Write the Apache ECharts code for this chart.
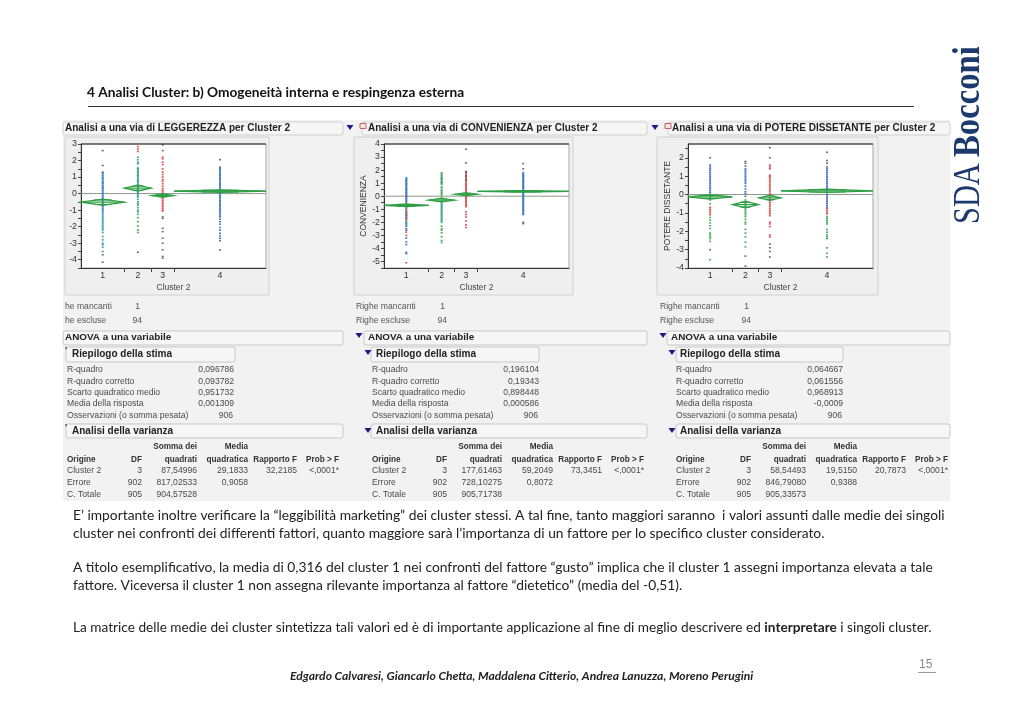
<!DOCTYPE html>
<html><head><meta charset="utf-8">
<style>html,body{margin:0;padding:0;background:#fff}#c{width:1030px;height:728px;filter:blur(0.35px)}</style>
<script src="https://cdn.jsdelivr.net/npm/echarts@6/dist/echarts.min.js"></script>
</head><body><div id="c"></div>
<script>
// ---------- DATA ----------
const clusterNames = ['1','2','3','4'];
const legBounds = [0,0.235,0.38,0.503,1];
const conBounds = [0,0.241,0.382,0.505,1];
const potBounds = [0,0.239,0.382,0.503,1];

const legMeans = [-0.52,0.33,-0.12,0.15];
const legCI = [0.19,0.18,0.1,0.07];
const conMeans = [-0.7,-0.3,0.15,0.37];
const conCI = [0.1,0.14,0.1,0.06];
const potMeans = [-0.13,-0.55,-0.18,0.2];
const potCI = [0.12,0.18,0.14,0.09];
const grandMeans = [0.0013,0.0006,-0.0009];

const legC1Blue = [1.3,1.2,1.1,1.0,0.9,0.8,0.7,0.6,0.5,0.4,0.3,0.2,0.1,0,-0.1,-0.2,-0.3,-0.4,-0.5,-0.6,-0.7,-0.8,-0.9,-1.0];
const legC1Teal = [1.25,0.95,0.65,0.35,-1.1,-1.2,-1.3,-1.4,-1.5,-1.6,-1.7,-1.8,-1.9,-2.0,-2.1,-2.2,-2.35,-2.6,-2.8,-3.0,-3.1,-3.25,-3.5];
const legC1Dark = [2.6,1.7,-3.7,-4.15];
const legC2Teal = [2.2,2.05,1.9,1.8,1.55,1.45,1.35,1.25,1.15,1.05,0.95,0.85,0.75,0.65,0.55,0.45,0.35,0.25,0.15,0.05,-0.05,-0.2,-0.35,-0.5,-0.7,-0.85,-1.0];
const legC2Green = [1.5,1.3,1.1,0.8,0.5,0.2,-0.15,-0.6,-1.1,-1.25,-1.45,-1.7,-1.95,-2.2,-2.35];
const legC2Red = [2.85,2.7,2.55];
const legC2Dark = [-3.55];
const legC3Red = [2.2,2.1,1.9,1.75,1.5,1.3,1.15,1.0,0.85,0.75,0.6,0.45,0.3,0.2,0.1,0,-0.1,-0.2,-0.3,-0.4,-0.5,-0.6,-0.7,-0.8,-0.9,-1.0,-1.05];
const legC3Dark = [2.95,2.6,-1.4,-1.5,-2.1,-2.3,-2.7,-3.0,-3.4,-3.8,-3.9];
const legC4Blue = [1.6,1.5,1.4,1.3,1.2,1.1,1.0,0.9,0.8,0.7,0.6,0.5,0.4,0.3,0.2,0.1,0,-0.1,-0.2,-0.3,-0.4,-0.5,-0.6,-0.7,-0.8,-0.9,-1.0,-1.1,-1.3,-1.4,-1.55,-1.7,-2.2,-2.4,-2.55,-2.7,-2.85];
const legC4Teal = [1.45,1.15,0.85,0.55,-0.15,-0.45,-0.75,-1.2,-1.85,-2.05];
const legC4Dark = [2.05,-3.4];

const conC1Blue = [1.4,1.3,1.2,1.1,1.0,0.9,0.8,0.7,0.6,0.5,0.4,0.3,0.2,0.1,0,-0.1,-0.2,-0.3,-0.4,-1.2,-1.4,-1.6,-2.1,-2.3,-2.5,-2.6,-3.2,-3.5,-3.7,-4.3,-4.4];
const conC1Teal = [1.25,0.95,0.55,0.25,-0.5,-0.7,-0.8,-0.9,-1.1,-1.3,-1.5,-1.7,-1.9,-2.0,-2.2];
const conC1Red = [0.0,-0.6,-1.0,-1.25,-1.45,-1.65,-1.8,-2.75,-3.0,-5.1];
const conC2Green = [1.8,1.7,1.6,1.5,1.4,1.3,1.2,1.1,1.0,0.9,0.7,0.5,0.4,0.3,0.2,0.1,-0.1,-0.4,-0.5,-0.7,-0.9,-1.1,-1.3,-1.5,-1.7,-1.9,-2.0,-2.3,-2.5,-2.6,-2.8,-3.1,-3.4,-3.55];
const conC2Teal = [1.35,1.05,0.65,-0.6,-0.8,-1.0,-1.2,-1.4,-1.6,-1.8];
const conC3Red = [1.9,1.8,1.7,1.6,1.5,1.4,1.3,1.2,1.1,1.0,0.9,0.8,0.7,0.6,0.5,0.4,0.3,0.2,0.1,0,-0.1,-0.2,-0.3,-0.4,-0.5,-0.6,-0.7,-0.8,-1.2,-1.4,-1.6,-1.9,-2.2,-2.4];
const conC3Dark = [3.6,2.55,1.85,1.55,1.25];
const conC4Blue = [1.8,1.7,1.6,1.5,1.4,1.3,1.2,1.1,1.0,0.9,0.8,0.7,0.6,0.5,0.4,0.3,0.2,0.1,0,-0.1,-0.2,-0.3,-0.4,-0.5,-0.6,-0.7,-0.8,-0.9,-1.0,-1.1,-1.2,-1.3,-1.4];
const conC4Teal = [1.55,1.15,0.75,0.25,-0.25,-0.65,-1.05];
const conC4Dark = [2.5,2.1,-2.0,-2.1];

const potC1Blue = [1.6,1.5,1.4,1.3,1.2,1.1,1.0,0.9,0.8,0.7,0.6,0.5,0.4,0.3,0.2,0.1,0,-0.1,-0.2];
const potC1Red = [-0.7,-0.8,-0.9,-1.0,-1.1];
const potC1Green = [-0.3,-0.5,-1.25,-1.4,-1.55,-1.7,-1.85,-2.1,-2.2,-2.3,-2.4,-2.55,-3.55];
const potC1Dark = [2.0,-3.0];
const potC2Blue = [1.4,1.3,1.2,1.1,1.0,0.9,0.8,0.7,0.6,0.45,0.3,0.15,0.05,-0.1];
const potC2Green = [-0.3,-0.4,-0.5,-0.6,-0.7,-0.8,-0.9,-1.0,-1.1,-1.2,-1.35,-1.5,-1.6,-1.9,-2.1,-2.3,-2.6,-2.85];
const potC2Dark = [1.8,1.7,1.55,-3.35,-3.9];
const potC3Red = [1.05,1.0,0.95,0.85,0.75,0.65,0.55,0.45,0.35,0.25,0.15,0.05,-0.05,-0.15,-0.25,-0.35,-0.45,-0.55,-0.65,-0.75,-0.85,-0.95,-1.05,-1.15,1.6,1.5,1.4,-1.5,-1.6,-1.75,-2.2,-2.3];
const potC3Dark = [2.55,2.0,-2.7,-2.9,-3.1,-3.4];
const potC4Blue = [1.5,1.4,1.3,1.2,1.1,1.0,0.9,0.8,0.7,0.6,0.5,0.4,0.3,0.2,0.1,0,-0.1,-0.2,-0.3,-0.4,-0.5,-0.6,-0.7];
const potC4Red = [-0.75,-0.85,-0.95,-1.05];
const potC4Green = [-1.2,-1.3,-1.4,-1.5,-1.6,-1.9,-2.05,-2.2,-2.3,-2.4,-2.9,-3.2,-3.4];
const potC4Dark = [2.3,1.85,1.7];

const legTicks = [-4,-3,-2,-1,0,1,2,3];
const conTicks = [-5,-4,-3,-2,-1,0,1,2,3,4];
const potTicks = [-4,-3,-2,-1,0,1,2];
const legMinor = [-4.5,-4,-3.5,-3,-2.5,-2,-1.5,-1,-0.5,0,0.5,1,1.5,2,2.5,3];
const conMinor = [-5.5,-5,-4.5,-4,-3.5,-3,-2.5,-2,-1.5,-1,-0.5,0,0.5,1,1.5,2,2.5,3,3.5,4];
const potMinor = [-4,-3.5,-3,-2.5,-2,-1.5,-1,-0.5,0,0.5,1,1.5,2,2.5];

const panelTitles = ['Analisi a una via di LEGGEREZZA per Cluster 2','Analisi a una via di CONVENIENZA per Cluster 2','Analisi a una via di POTERE DISSETANTE per Cluster 2'];
const summaryLabels = ['R-quadro','R-quadro corretto','Scarto quadratico medio','Media della risposta','Osservazioni (o somma pesata)'];
const legSummary = ['0,096786','0,093782','0,951732','0,001309','906'];
const conSummary = ['0,196104','0,19343','0,898448','0,000586','906'];
const potSummary = ['0,064667','0,061556','0,968913','-0,0009','906'];
const anovaHead1 = ['','','Somma dei','Media','',''];
const anovaHead2 = ['Origine','DF','quadrati','quadratica','Rapporto F','Prob > F'];
const legAnova = [['Cluster 2','3','87,54996','29,1833','32,2185','<,0001*'],['Errore','902','817,02533','0,9058','',''],['C. Totale','905','904,57528','','','']];
const conAnova = [['Cluster 2','3','177,61463','59,2049','73,3451','<,0001*'],['Errore','902','728,10275','0,8072','',''],['C. Totale','905','905,71738','','','']];
const potAnova = [['Cluster 2','3','58,54493','19,5150','20,7873','<,0001*'],['Errore','902','846,79080','0,9388','',''],['C. Totale','905','905,33573','','','']];

const heading = '4 Analisi Cluster: b) Omogeneità interna e respingenza esterna';
const bodyLines = [
 'E’ importante inoltre verificare la “leggibilità marketing” dei cluster stessi. A tal fine, tanto maggiori saranno  i valori assunti dalle medie dei singoli',
 'cluster nei confronti dei differenti fattori, quanto maggiore sarà l’importanza di un fattore per lo specifico cluster considerato.',
 'A titolo esemplificativo, la media di 0,316 del cluster 1 nei confronti del fattore “gusto” implica che il cluster 1 assegni importanza elevata a tale',
 'fattore. Viceversa il cluster 1 non assegna rilevante importanza al fattore “dietetico” (media del -0,51).'
];
const lastLine = ['La matrice delle medie dei cluster sintetizza tali valori ed è di importante applicazione al fine di meglio descrivere ed ','interpretare',' i singoli cluster.'];
const footer = 'Edgardo Calvaresi, Giancarlo Chetta, Maddalena Citterio, Andrea Lanuzza, Moreno Perugini';

// ---------- STYLE ----------
const COL = {blue:'#3566c4',teal:'#2a98a4',green:'#35a84a',red:'#d84848',dark:'#5a6068'};
const SANS = '"Liberation Sans",Arial,sans-serif';
const DIA = '#2f9f45';

const panels = [
 {bounds:legBounds,means:legMeans,ci:legCI,min:-4.5,max:3,ticks:legTicks,minor:legMinor,name:'',left:81,dx:0,
  sets:[[0,'blue',legC1Blue],[0,'teal',legC1Teal],[0,'dark',legC1Dark],[1,'teal',legC2Teal],[1,'green',legC2Green],[1,'red',legC2Red],[1,'dark',legC2Dark],[2,'red',legC3Red],[2,'dark',legC3Dark],[3,'blue',legC4Blue],[3,'teal',legC4Teal],[3,'dark',legC4Dark]]},
 {bounds:conBounds,means:conMeans,ci:conCI,min:-5.5,max:4,ticks:conTicks,minor:conMinor,name:'CONVENIENZA',left:384,dx:305,
  sets:[[0,'blue',conC1Blue],[0,'teal',conC1Teal],[0,'red',conC1Red],[1,'green',conC2Green],[1,'teal',conC2Teal],[2,'red',conC3Red],[2,'dark',conC3Dark],[3,'blue',conC4Blue],[3,'teal',conC4Teal],[3,'dark',conC4Dark]]},
 {bounds:potBounds,means:potMeans,ci:potCI,min:-4,max:2.75,ticks:potTicks,minor:potMinor,name:'POTERE DISSETANTE',left:688,dx:609,
  sets:[[0,'blue',potC1Blue],[0,'red',potC1Red],[0,'green',potC1Green],[0,'dark',potC1Dark],[1,'blue',potC2Blue],[1,'green',potC2Green],[1,'dark',potC2Dark],[2,'red',potC3Red],[2,'dark',potC3Dark],[3,'blue',potC4Blue],[3,'red',potC4Red],[3,'green',potC4Green],[3,'dark',potC4Dark]]}
];

const chart = echarts.init(document.getElementById('c'),null,{renderer:'canvas'});
const mids = b => clusterNames.map((_,i)=>(b[i]+b[i+1])/2);

const grids=[],xAxes=[],yAxes=[],series=[];
panels.forEach((p,pi)=>{
  grids.push({left:p.left,top:144,width:185,height:124,show:true,backgroundColor:'#fff',borderColor:'#a8a8a8',borderWidth:1});
  xAxes.push({gridIndex:pi,type:'value',min:0,max:1,splitLine:{show:false},
    axisLine:{onZero:false,lineStyle:{color:'#333',width:1}},
    axisTick:{customValues:p.bounds.slice(1,4),length:4,inside:false,lineStyle:{color:'#444'}},
    axisLabel:{customValues:mids(p.bounds),margin:3,fontSize:8.8,fontFamily:SANS,color:'#333',
      formatter:v=>{const i=mids(p.bounds).findIndex(m=>Math.abs(m-v)<1e-6);return i<0?'':clusterNames[i];}},
    name:'Cluster 2',nameLocation:'middle',nameGap:15,nameTextStyle:{fontSize:8.5,fontFamily:SANS,color:'#444'}});
  yAxes.push({gridIndex:pi,type:'value',min:p.min,max:p.max,splitLine:{show:false},
    axisLine:{onZero:false,lineStyle:{color:'#333',width:1}},
    axisTick:{customValues:p.minor,length:3,lineStyle:{color:'#444'}},
    axisLabel:{customValues:p.ticks,margin:4,fontSize:8.8,fontFamily:SANS,color:'#333',formatter:v=>String(v)},
    name:p.name,nameLocation:'middle',nameGap:16,nameTextStyle:{fontSize:8.5,fontFamily:SANS,color:'#333'}});
  series.push({type:'line',xAxisIndex:pi,yAxisIndex:pi,data:[[0,grandMeans[pi]],[1,grandMeans[pi]]],showSymbol:false,silent:true,
    lineStyle:{color:'#8a9a8a',width:1},z:2});
  p.sets.forEach(([c,col,vals])=>{
    const x=mids(p.bounds)[c];
    series.push({type:'scatter',xAxisIndex:pi,yAxisIndex:pi,symbol:'rect',symbolSize:[2,1.6],silent:true,
      itemStyle:{color:COL[col],opacity:0.9},data:vals.map(v=>[x,v]),z:3});
  });
  series.push({type:'custom',xAxisIndex:pi,yAxisIndex:pi,silent:true,z:4,
    data:p.means.map((m,i)=>[p.bounds[i],p.bounds[i+1],m,p.ci[i]]),
    renderItem:(params,api)=>{
      const x0=api.value(0),x1=api.value(1),m=api.value(2),h=api.value(3),xm=(x0+x1)/2;
      const L=api.coord([x0,m]),R=api.coord([x1,m]),T=api.coord([xm,m+h]),B=api.coord([xm,m-h]);
      const ls={stroke:DIA,lineWidth:1.2,fill:null};
      const ov=h*0.7,w=(x1-x0)*0.2;
      const seg=(a,b)=>({type:'line',shape:{x1:api.coord(a)[0],y1:api.coord(a)[1],x2:api.coord(b)[0],y2:api.coord(b)[1]},style:ls});
      return {type:'group',children:[
        {type:'polygon',shape:{points:[L,T,R,B]},style:ls},
        seg([x0,m],[x1,m]),
        seg([xm-w,m+ov],[xm+w,m+ov]),
        seg([xm-w,m-ov],[xm+w,m-ov])
      ]};
    }});
});

// ---------- GRAPHIC (page furniture and text) ----------
const g=[];
const txt=(s,x,y,o={})=>g.push({type:'text',z:o.z||5,x,y,rotation:o.rot||0,scaleX:o.sx||1,scaleY:o.sy||1,silent:true,
  style:{text:s,font:`${o.style||'normal'} ${o.w||'normal'} ${o.size||8.6}px ${o.font||SANS}`,fill:o.c||'#4a4a4a',align:o.a||'left',verticalAlign:'middle'}});
const rect=(x,y,w,h,fill,stroke,r,z)=>g.push({type:'rect',z:z===undefined?-5:z,silent:true,shape:{x,y,width:w,height:h,r:r||0},style:{fill:fill||'none',stroke:stroke||'none',lineWidth:1}});
const tri=(x,y)=>g.push({type:'polygon',z:5,silent:true,shape:{points:[[x-3.5,y-2],[x+3.5,y-2],[x,y+3]]},style:{fill:'#1a1a8a'}});

rect(63,120,887,381,'#f2f2f2',null,0,-10);
const BODY='Lato,"Open Sans",sans-serif';

const titleBars=[[63,343],[362,647],[668,950]];
const anovaBars=[[63,343],[364,647],[667,950]];
const riepBars=[[66,235],[371,539],[676,843]];
const varBars=[[66,343],[371,647],[676,950]];
const graphBoxes=[[65,269],[354,573],[657,878]];
const titleTextX=[65,368,672];
const riepTextX=[72,376,680];
const mancantiText=['he mancanti','Righe mancanti','Righe mancanti'];
const esclusaText=['he escluse','Righe escluse','Righe escluse'];
const mancX=[65,356,660];
const anovaX=[65,368,671];
const summaries=[legSummary,conSummary,potSummary];
const anovas=[legAnova,conAnova,potAnova];
const colR=[142,197,248,297,339];

panels.forEach((p,i)=>{
  const d=p.dx;
  rect(titleBars[i][0],122,titleBars[i][1]-titleBars[i][0],13,'#f6f6f6','#d0d0d0',2);
  rect(graphBoxes[i][0],137,graphBoxes[i][1]-graphBoxes[i][0],158,'#efefef','#d0d0d0',0);
  txt(panelTitles[i],titleTextX[i],128.5,{w:'bold',size:10,c:'#222'});
  txt(mancantiText[i],mancX[i],307,{c:'#555'});
  txt('1',140+d,307,{a:'right',c:'#555'});
  txt(esclusaText[i],mancX[i],321,{c:'#555'});
  txt('94',142+d,321,{a:'right',c:'#555'});
  rect(anovaBars[i][0],331,anovaBars[i][1]-anovaBars[i][0],14,'#f6f6f6','#c8c8c8',2);
  txt('ANOVA a una variabile',anovaX[i],337.5,{w:'bold',size:9.9,c:'#222'});
  rect(riepBars[i][0],347,riepBars[i][1]-riepBars[i][0],15,'#f6f6f6','#c8c8c8',2);
  txt('Riepilogo della stima',riepTextX[i],354.5,{w:'bold',size:10,c:'#222'});
  summaryLabels.forEach((s,k)=>{
    const y=370+k*11.3;
    txt(s,67+d,y);
    txt(summaries[i][k],(k===4?233:234)+d,y,{a:'right'});
  });
  rect(varBars[i][0],424,varBars[i][1]-varBars[i][0],14,'#f6f6f6','#c8c8c8',2);
  txt('Analisi della varianza',riepTextX[i],431.5,{w:'bold',size:10,c:'#222'});
  [anovaHead1,anovaHead2].forEach((row,r)=>{
    row.forEach((s,c)=>{ if(!s) return;
      const y=r?459.5:447;
      if(c===0) txt(s,67+d,y,{c:'#333',w:'bold',size:8.2});
      else txt(s,colR[c-1]+d,y,{a:'right',c:'#333',w:'bold',size:8.2});
    });
  });
  anovas[i].forEach((row,r)=>{
    row.forEach((s,c)=>{ if(!s) return;
      const y=471+r*12;
      if(c===0) txt(s,67+d,y); else txt(s,colR[c-1]+d,y,{a:'right'});
    });
  });
  g.push({type:'line',z:5,silent:true,shape:{x1:p.left,y1:144,x2:p.left+185,y2:144},style:{stroke:'#222',lineWidth:1}});
  if(i>0){
    tri(d+54,335); tri(d+63,352); tri(d+63,430);
  } else {
    txt('\'',65,351,{c:'#1a1a8a',size:9,w:'bold'}); txt('\'',65,428,{c:'#1a1a8a',size:9,w:'bold'});
  }
});
[350,655].forEach(x=>{
  tri(x,127);
  rect(x+10,123.5,6,5,'#f2e6e6','#c86060',0,5);
});

txt(heading,87,93,{font:BODY,w:'bold',size:13.7,c:'#111'});
g.push({type:'line',z:5,silent:true,shape:{x1:88,y1:106.5,x2:914,y2:106.5},style:{stroke:'#333',lineWidth:1}});
[516,534,568,586].forEach((y,i)=>txt(bodyLines[i],73,y,{font:BODY,size:13.8,c:'#222'}));
g.push({type:'text',z:5,x:73,y:628,silent:true,style:{
  text:`{a|${lastLine[0]}}{b|${lastLine[1]}}{a|${lastLine[2]}}`,verticalAlign:'middle',
  rich:{a:{font:`13.65px ${BODY}`,fill:'#222'},b:{font:`bold 13.65px ${BODY}`,fill:'#222'}}}});
txt(footer,290,676,{font:BODY,style:'italic',w:'bold',size:12.1,c:'#222'});
txt('15',919,665,{font:SANS,size:12,c:'#8a8a8a'});
g.push({type:'line',z:5,silent:true,shape:{x1:918,y1:672.5,x2:936,y2:672.5},style:{stroke:'#9a9a9a',lineWidth:1}});

txt('SDA',969,224,{font:'"Liberation Serif",serif',size:38,c:'#1c3a6e',rot:Math.PI/2,sx:0.80,sy:1});
txt('Bocconi',969,157,{font:'"Liberation Serif",serif',w:'bold',size:38,c:'#1c3a6e',rot:Math.PI/2,sx:0.86,sy:1});

chart.setOption({animation:false,backgroundColor:'#fff',grid:grids,xAxis:xAxes,yAxis:yAxes,series,graphic:{elements:g}});
</script></body></html>
